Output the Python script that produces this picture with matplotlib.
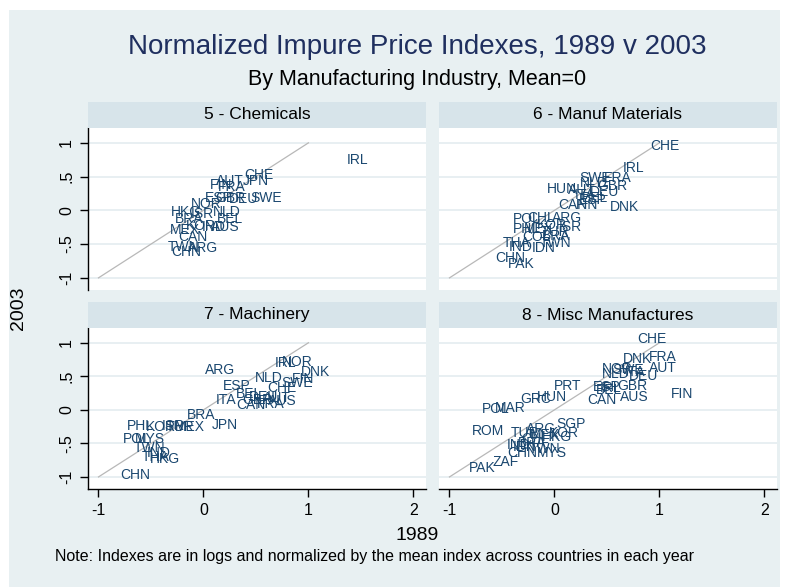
#!/usr/bin/env python3
"""Normalized impure price indexes, 1989 vs 2003, four industry panels."""
import matplotlib
matplotlib.use("Agg")
import matplotlib.pyplot as plt
from matplotlib.patches import Rectangle

plt.rcParams.update({
    "font.family": ["Liberation Sans", "DejaVu Sans"],
})

BG = "#e8f0f2"
STRIP = "#d7e4ea"
GRID = "#e6eef1"
LABEL = "#1a476f"
TITLE = "#1f2f5f"

# ---- data (log index, normalized by cross-country mean) ----
chem_codes = ["IRL", "CHE", "AUT", "JPN", "FIN", "FRA", "SWE", "ESP", "GBR", "DEU",
              "NOR", "NLD", "HKG", "ISR", "BRA", "BEL", "KOR", "AUS", "IND", "MEX",
              "CAN", "TWN", "ARG", "CHN"]
chem_1989 = [1.47, 0.53, 0.25, 0.50, 0.17, 0.27, 0.60, 0.15, 0.26, 0.38,
             0.03, 0.22, -0.17, -0.01, -0.14, 0.25, -0.02, 0.21, 0.10, -0.18,
             -0.10, -0.19, 0.00, -0.16]
chem_2003 = [0.74, 0.53, 0.43, 0.43, 0.38, 0.34, 0.18, 0.18, 0.19, 0.17,
             0.10, -0.03, -0.03, -0.05, -0.13, -0.13, -0.23, -0.25, -0.24, -0.29,
             -0.40, -0.55, -0.56, -0.62]

mat_codes = ["CHE", "IRL", "SWE", "FRA", "NLD", "GBR", "HUN", "AUT", "DEU", "ITA",
             "BEL", "ESP", "CAN", "FIN", "DNK", "POL", "CHL", "ARG", "ISR", "KOR",
             "PHL", "MEX", "TUR", "COL", "BRA", "THA", "IND", "IDN", "TWN", "CHN",
             "PAK"]
mat_1989 = [1.05, 0.75, 0.39, 0.60, 0.37, 0.55, 0.07, 0.26, 0.48, 0.29,
            0.39, 0.36, 0.18, 0.31, 0.67, -0.26, -0.13, 0.12, 0.15, -0.02,
            -0.27, -0.15, 0.01, -0.17, 0.02, -0.36, -0.32, -0.10, 0.01, -0.42,
            -0.32]
mat_2003 = [0.95, 0.63, 0.48, 0.48, 0.40, 0.36, 0.32, 0.30, 0.27, 0.23,
            0.18, 0.15, 0.08, 0.08, 0.05, -0.13, -0.12, -0.12, -0.24, -0.22,
            -0.27, -0.28, -0.32, -0.40, -0.38, -0.49, -0.55, -0.56, -0.49, -0.71,
            -0.79]

mach_codes = ["NOR", "IRL", "DNK", "FIN", "SWE", "ARG", "NLD", "CHE", "ESP", "BEL",
              "ITA", "GBR", "AUT", "AUS", "DEU", "CAN", "FRA", "BRA", "JPN", "PHL",
              "KOR", "ISR", "TUR", "MEX", "POL", "MYS", "TWN", "IND", "THA", "HKG",
              "CHN"]
mach_1989 = [0.89, 0.78, 1.07, 0.95, 0.89, 0.16, 0.62, 0.75, 0.32, 0.43,
             0.22, 0.51, 0.70, 0.75, 0.57, 0.45, 0.64, -0.02, 0.20, -0.60,
             -0.41, -0.29, -0.22, -0.13, -0.64, -0.51, -0.51, -0.43, -0.46, -0.37,
             -0.65]
mach_2003 = [0.72, 0.70, 0.57, 0.46, 0.40, 0.59, 0.47, 0.32, 0.36, 0.24,
             0.14, 0.14, 0.18, 0.13, 0.19, 0.07, 0.08, -0.07, -0.22, -0.24,
             -0.26, -0.24, -0.25, -0.25, -0.44, -0.43, -0.57, -0.65, -0.70, -0.74,
             -0.97]

misc_codes = ["CHE", "DNK", "FRA", "AUT", "NLD", "SWE", "ITA", "NOR", "DEU", "PRT",
              "GBR", "ESP", "BEL", "IRL", "CAN", "AUS", "FIN", "HUN", "GRC", "POL",
              "MAR", "ROM", "SGP", "ARG", "TUR", "KOR", "HKG", "CHL", "MEX", "IND",
              "IDN", "BRA", "TWN", "CHN", "MYS", "ZAF", "PAK"]
misc_1989 = [0.93, 0.79, 1.03, 1.03, 0.58, 0.70, 0.77, 0.60, 0.85, 0.13,
             0.74, 0.50, 0.52, 0.53, 0.45, 0.76, 1.22, -0.02, -0.18, -0.56,
             -0.42, -0.63, 0.16, -0.13, -0.28, 0.09, 0.02, -0.18, -0.09, -0.34,
             -0.28, -0.21, -0.09, -0.31, -0.02, -0.47, -0.69]
misc_2003 = [1.06, 0.76, 0.79, 0.62, 0.54, 0.60, 0.56, 0.61, 0.50, 0.36,
             0.36, 0.34, 0.29, 0.32, 0.14, 0.19, 0.23, 0.19, 0.16, 0.01,
             0.02, -0.31, -0.21, -0.28, -0.34, -0.35, -0.40, -0.43, -0.38, -0.52,
             -0.55, -0.50, -0.58, -0.65, -0.65, -0.78, -0.87]

panels = [
    ("5 - Chemicals", chem_codes, chem_1989, chem_2003),
    ("6 - Manuf Materials", mat_codes, mat_1989, mat_2003),
    ("7 - Machinery", mach_codes, mach_1989, mach_2003),
    ("8 - Misc Manufactures", misc_codes, misc_1989, misc_2003),
]

yticks = [-1, -0.5, 0, 0.5, 1]
ytick_labels = ["-1", "-.5", "0", ".5", "1"]
xticks = [-1, 0, 1, 2]
xtick_labels = ["-1", "0", "1", "2"]

W, H = 793, 587
fig = plt.figure(figsize=(W / 100, H / 100), dpi=100)
fig.patch.set_facecolor("white")
fig.patches.append(Rectangle((9 / W, 0), (780 - 9) / W, 1 - 10 / H,
                             transform=fig.transFigure, facecolor=BG,
                             edgecolor="none", zorder=-10))

# pixel boxes: (left, right) columns and (strip_top, plot_top, plot_bottom) rows
cols = [(88, 426), (439, 777)]
rows = [(102, 128, 290), (302, 328, 489)]

for i, (title, codes, x89, y03) in enumerate(panels):
    r, c = divmod(i, 2)
    x0, x1 = cols[c]
    st, pt, pb = rows[r]
    ax = fig.add_axes([x0 / W, 1 - pb / H, (x1 - x0) / W, (pb - pt) / H])
    sax = fig.add_axes([x0 / W, 1 - pt / H, (x1 - x0) / W, (pt - st) / H])
    sax.set_facecolor(STRIP)
    sax.set_xticks([])
    sax.set_yticks([])
    for s in sax.spines.values():
        s.set_visible(False)
    sax.text(0.5, 0.5, title, ha="center", va="center", fontsize=12.5,
             color="black", transform=sax.transAxes)

    ax.set_facecolor("white")
    ax.set_xlim(-1.1, 2.12)
    ax.set_ylim(-1.18, 1.22)
    for yv in yticks:
        ax.axhline(yv, color=GRID, linewidth=1.3, zorder=0)
    ax.plot([-1, 1], [-1, 1], color="#b8b8b8", linewidth=0.9, zorder=1)
    for code, xv, yv in zip(codes, x89, y03):
        ax.text(xv, yv, code, ha="center", va="center", fontsize=10,
                color=LABEL, zorder=2)

    for s in ("top", "right"):
        ax.spines[s].set_visible(False)
    ax.spines["left"].set_visible(c == 0)
    ax.spines["bottom"].set_visible(r == 1)
    ax.spines["left"].set_linewidth(1.0)
    ax.spines["bottom"].set_linewidth(1.0)

    if c == 0:
        ax.set_yticks(yticks)
        ax.set_yticklabels(ytick_labels, rotation=90, va="center", fontsize=11.5)
        ax.tick_params(axis="y", length=6, width=1.0, pad=4)
    else:
        ax.set_yticks([])
    if r == 1:
        ax.set_xticks(xticks)
        ax.set_xticklabels(xtick_labels, fontsize=11.5)
        ax.tick_params(axis="x", length=6, width=1.0, pad=4)
    else:
        ax.set_xticks([])

fig.text(417 / W, 1 - 47 / H, "Normalized Impure Price Indexes, 1989 v 2003",
         ha="center", va="center", fontsize=20, color=TITLE)
fig.text(417 / W, 1 - 80 / H, "By Manufacturing Industry, Mean=0",
         ha="center", va="center", fontsize=15.5, color="black")
fig.text(417 / W, 1 - 536 / H, "1989", ha="center", va="center", fontsize=14)
fig.text(18 / W, 1 - 308 / H, "2003", ha="center", va="center", fontsize=14,
         rotation=90)
fig.text(55 / W, 1 - 557 / H,
         "Note: Indexes are in logs and normalized by the mean index across countries in each year",
         ha="left", va="center", fontsize=11.5)

fig.savefig("out.png", dpi=100, facecolor=fig.get_facecolor())
